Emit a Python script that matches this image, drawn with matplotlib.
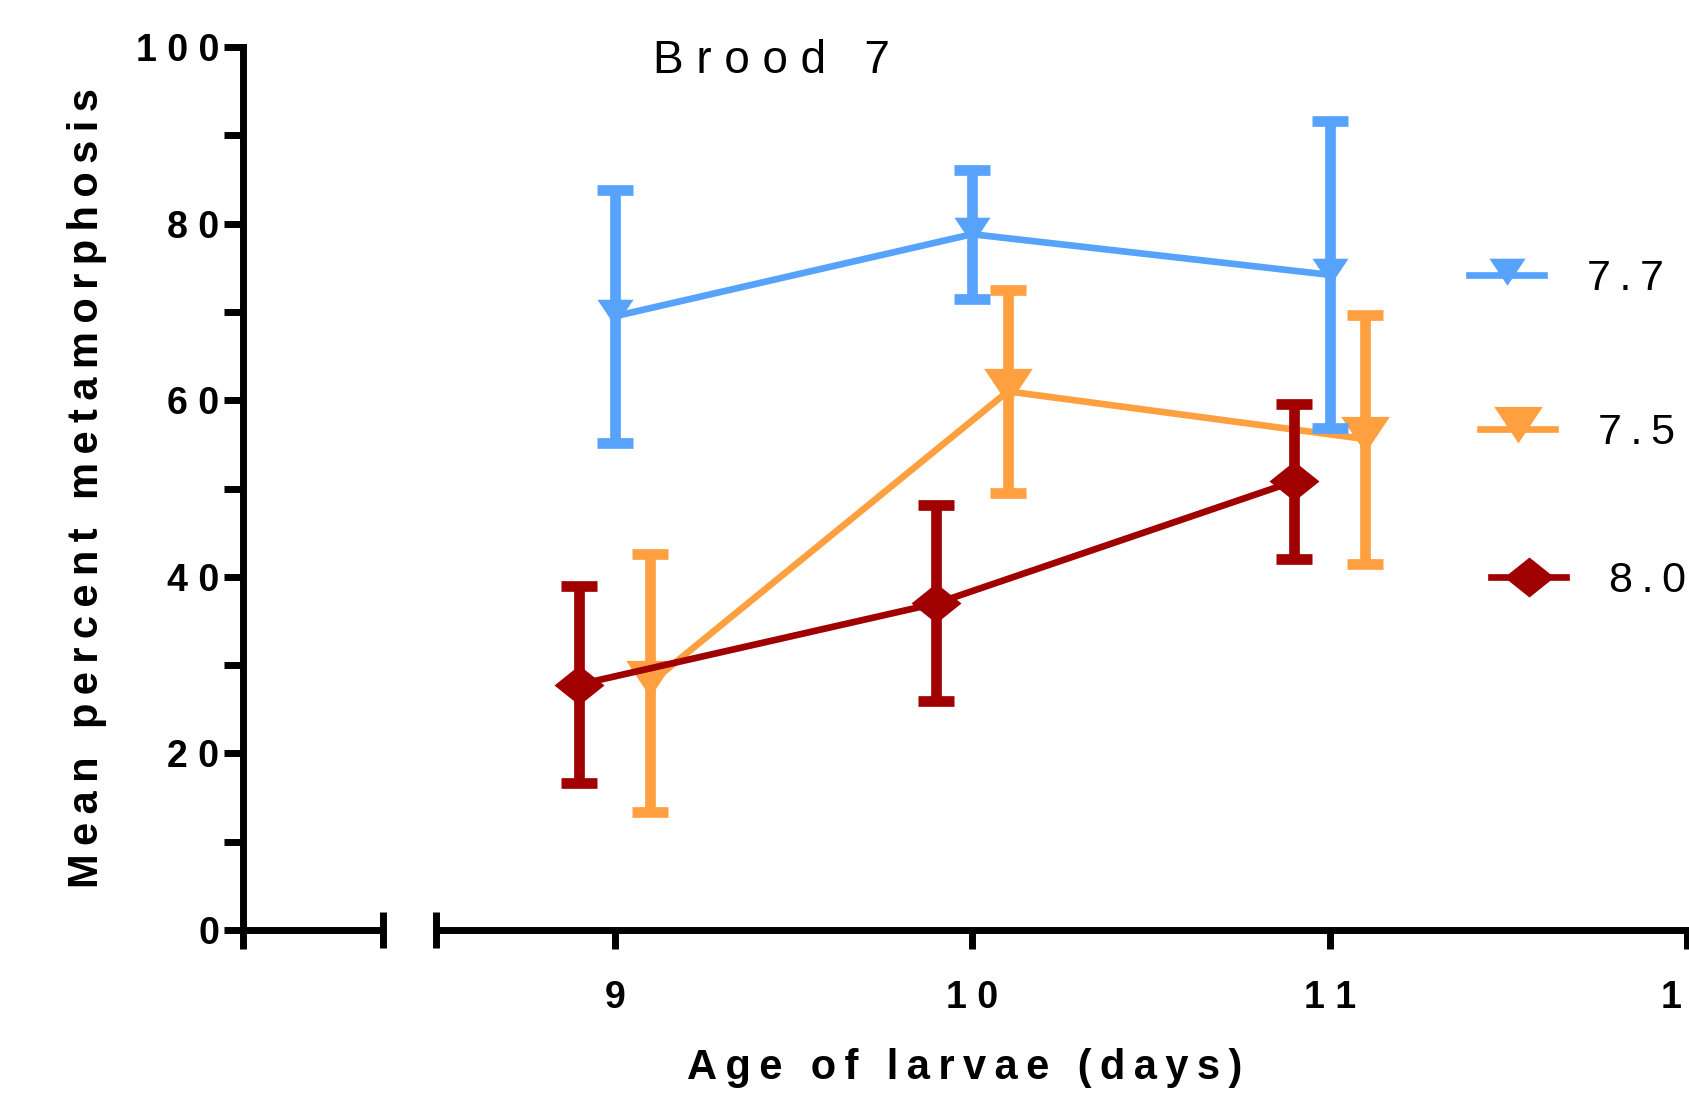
import matplotlib
matplotlib.use("Agg")
import matplotlib.pyplot as plt
from matplotlib.lines import Line2D

plt.rcParams['font.family'] = ['Liberation Sans', 'DejaVu Sans']

# data
days = [9, 10, 11]
labels = ['7.7', '7.5', '8.0']
mean_77 = [69.5, 78.8, 74.2]
err_77 = [14.3, 7.3, 17.4]
mean_75 = [28.0, 61.0, 55.6]
err_75 = [14.6, 11.5, 14.1]
mean_80 = [27.8, 37.0, 50.8]
err_80 = [11.2, 11.1, 8.8]

y_ticks = [0, 20, 40, 60, 80, 100]
y_minor = [10, 30, 50, 70, 90]
x_ticks = [9, 10, 11, 12]


def spaced(s, sep=' '):
    # the original uses wide letter spacing
    return sep.join(s)


THIN = '\u2009'

W, H = 1690, 1094
fig = plt.figure(figsize=(W / 100, H / 100), dpi=100)
bottom = (H - 930) / H
height = (930 - 47) / H
ax_l = fig.add_axes([243 / W, bottom, 140 / W, height])
ax = fig.add_axes([436 / W, bottom, (1687 - 436) / W, height])

lw_spine = 5
tick_len = 14

# left (broken) piece of the x axis carries the y axis
for a in (ax_l, ax):
    a.set_ylim(0, 100)
    a.spines['top'].set_visible(False)
    a.spines['right'].set_visible(False)
    a.spines['bottom'].set_linewidth(lw_spine)
    a.spines['left'].set_linewidth(lw_spine)
    a.patch.set_alpha(0)

ax_l.set_xlim(0, 1)
ax_l.set_xticks([0])
ax_l.set_xticklabels([''])
ax_l.set_xticks([1], minor=True)
ax_l.tick_params(axis='x', which='major', direction='out', length=tick_len, width=lw_spine)
ax_l.tick_params(axis='x', which='minor', direction='inout', length=26, width=lw_spine)
ax_l.set_yticks(y_ticks)
ax_l.set_yticklabels([spaced(str(v)) for v in y_ticks], fontsize=27, fontweight='bold')
ax_l.set_yticks(y_minor, minor=True)
ax_l.tick_params(axis='y', which='both', direction='out', length=tick_len, width=lw_spine, pad=3)
ax_l.set_ylabel(spaced('Mean percent metamorphosis', THIN), fontsize=30, fontweight='bold')
ax_l.yaxis.set_label_coords(-0.97, 0.5)

ax.spines['left'].set_visible(False)
ax.set_xlim(8.5, 12)
ax.set_yticks([])
ax.set_xticks(x_ticks)
ax.set_xticklabels([spaced(str(v)) for v in x_ticks], fontsize=27, fontweight='bold')
ax.set_xticks([8.5], minor=True)
ax.tick_params(axis='x', which='major', direction='out', length=tick_len, width=lw_spine, pad=22)
ax.tick_params(axis='x', which='minor', direction='inout', length=26, width=lw_spine)
ax.set_xlabel(spaced('Age of larvae (days)', THIN), fontsize=30, fontweight='bold')
ax.xaxis.set_label_coords(0.423, -0.134)

# markers: triangle with the data point ~60% down, flattened diamond
tri = [(-1, 0.93), (1, 0.93), (0, -0.57), (-1, 0.93)]
dia = [(0, 0.8), (1, 0), (0, -0.8), (-1, 0), (0, 0.8)]

series = [
    (labels[0], mean_77, err_77, 0.0, '#57A3FC', tri, 26, 3),
    (labels[1], mean_75, err_75, 0.1, '#FFA040', tri, 35, 2),
    (labels[2], mean_80, err_80, -0.1, '#A00000', dia, 36, 4),
]

handles = []
for name, m, e, off, col, mk, ms, z in series:
    xs = [d + off for d in days]
    ax.errorbar(xs, m, yerr=e, fmt='none', ecolor=col, elinewidth=7.7,
                capsize=13, capthick=7.7, zorder=z)
    ax.plot(xs, m, color=col, lw=4.8, marker=mk, markersize=ms,
            markeredgewidth=0, zorder=z, clip_on=False)
    handles.append(Line2D([], [], color=col, lw=4.8, marker=mk, markersize=ms,
                          markeredgewidth=0))

# legend entries sit slightly staggered in the original
leg_pos = [(1469, 279), (1480, 433), (1491, 581)]
for h, name, (lx, ly) in zip(handles, labels, leg_pos):
    leg = fig.legend(handles=[h], labels=[spaced(name, THIN)],
                     loc='center left', bbox_to_anchor=(lx / W, (H - ly) / H),
                     frameon=False, fontsize=31, handlelength=1.75,
                     handletextpad=1.0, borderpad=0, borderaxespad=0)

fig.text(771 / W, (H - 73) / H, spaced('Brood 7'), fontsize=33,
         ha='center', va='baseline')

fig.savefig('out.png', dpi=100)
